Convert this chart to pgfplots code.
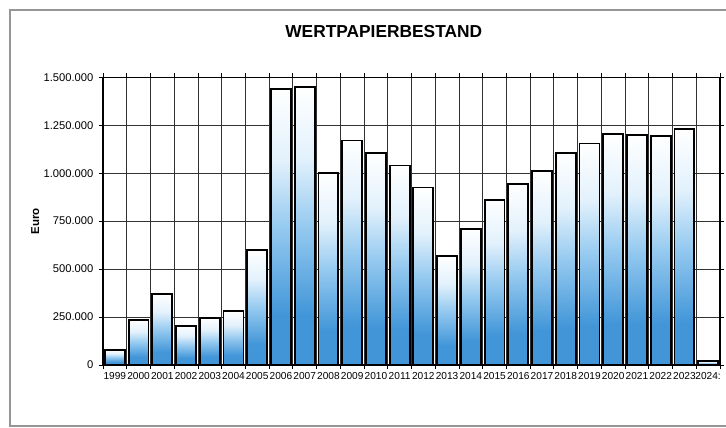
\documentclass[border=0pt]{standalone}
\usepackage{pgfplots}
\pgfplotsset{compat=1.18}
\usepackage{fontspec}
\setmainfont{Liberation Sans}

\definecolor{barblue}{RGB}{66,150,216}
\definecolor{barmid}{RGB}{150,202,240}
\definecolor{barlight}{RGB}{226,241,252}
\definecolor{framegray}{RGB}{150,150,150}
\definecolor{gridc}{RGB}{50,50,50}

% Verlauf je Balken: unten blau, oben weiss
\pgfdeclareverticalshading{barshade}{100bp}{
  color(0bp)=(barblue); color(25bp)=(barblue); color(34bp)=(barblue);
  color(50bp)=(barmid); color(62bp)=(barlight); color(75bp)=(white);
  color(100bp)=(white)}

\begin{document}
\begin{tikzpicture}
  \path[use as bounding box] (0,0) rectangle (544.5pt,321pt);
  % grauer Rahmen
  \draw[framegray, line width=2pt]
    (544.5pt,313.5pt) -- (7.5pt,313.5pt) -- (7.5pt,1.5pt) -- (544.5pt,1.5pt);

  \begin{axis}[
    at={(77.25pt,47.25pt)},
    anchor=south west,
    scale only axis,
    width=462.75pt,
    height=215.8pt,
    xmin=-0.5, xmax=25.5,
    ymin=0, ymax=1500000,
    xtick={0,...,25},
    xticklabels={1999,2000,2001,2002,2003,2004,2005,2006,2007,2008,2009,2010,2011,2012,2013,2014,2015,2016,2017,2018,2019,2020,2021,2022,2023,2024:},
    minor xtick={-0.5,0.5,...,25.5},
    xminorgrids,
    ytick={0,250000,500000,750000,1000000,1250000,1500000},
    yticklabels={0,250.000,500.000,750.000,1.000.000,1.250.000,1.500.000},
    ymajorgrids,
    major x tick style={draw=none},
    minor tick length=3pt,
    major tick length=3pt,
    tick align=outside,
    tick style={black, line width=0.6pt},
    grid style={gridc, line width=0.6pt},
    minor grid style={gridc, line width=0.6pt},
    axis line style={black, line width=0.8pt},
    xticklabel style={font=\fontsize{7.6}{8}\selectfont, inner sep=1pt, yshift=-1pt},
    yticklabel style={font=\fontsize{8.4}{9}\selectfont, inner sep=1pt, xshift=-3pt},
    title={WERTPAPIERBESTAND},
    title style={font=\bfseries\fontsize{13}{15}\selectfont, at={(rel axis cs:0.455,1)}, anchor=south, yshift=20pt},
    ylabel={Euro},
    ylabel style={font=\bfseries\fontsize{8.6}{10}\selectfont, at={(axis description cs:-0.11,0.5)}, anchor=center},
    ybar,
    bar width=0.84,
    scaled y ticks=false,
    balken/.style={draw=black, line width=1.4pt, shading=barshade, bar shift=0pt},
  ]
    % ein Balken je Jahr, damit jeder seinen eigenen Verlauf bekommt
    \addplot[balken] coordinates {(0,80000)};    % 1999
    \addplot[balken] coordinates {(1,235000)};   % 2000
    \addplot[balken] coordinates {(2,370000)};   % 2001
    \addplot[balken] coordinates {(3,205000)};   % 2002
    \addplot[balken] coordinates {(4,245000)};   % 2003
    \addplot[balken] coordinates {(5,280000)};   % 2004
    \addplot[balken] coordinates {(6,600000)};   % 2005
    \addplot[balken] coordinates {(7,1440000)};  % 2006
    \addplot[balken] coordinates {(8,1450000)};  % 2007
    \addplot[balken] coordinates {(9,1000000)};  % 2008
    \addplot[balken] coordinates {(10,1170000)}; % 2009
    \addplot[balken] coordinates {(11,1105000)}; % 2010
    \addplot[balken] coordinates {(12,1040000)}; % 2011
    \addplot[balken] coordinates {(13,925000)};  % 2012
    \addplot[balken] coordinates {(14,570000)};  % 2013
    \addplot[balken] coordinates {(15,710000)};  % 2014
    \addplot[balken] coordinates {(16,860000)};  % 2015
    \addplot[balken] coordinates {(17,945000)};  % 2016
    \addplot[balken] coordinates {(18,1010000)}; % 2017
    \addplot[balken] coordinates {(19,1105000)}; % 2018
    \addplot[balken] coordinates {(20,1155000)}; % 2019
    \addplot[balken] coordinates {(21,1205000)}; % 2020
    \addplot[balken] coordinates {(22,1200000)}; % 2021
    \addplot[balken] coordinates {(23,1195000)}; % 2022
    \addplot[balken] coordinates {(24,1230000)}; % 2023
    \addplot[balken] coordinates {(25,20000)};   % 2024
  \end{axis}
\end{tikzpicture}
\end{document}
